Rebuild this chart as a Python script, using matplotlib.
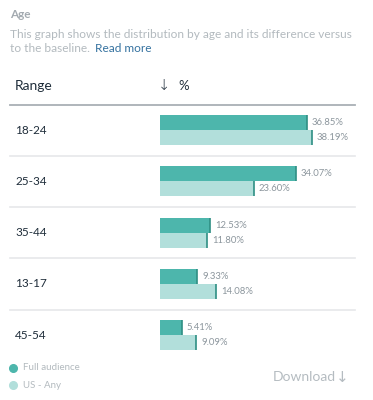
import matplotlib
matplotlib.use("Agg")
import matplotlib.pyplot as plt
from matplotlib.lines import Line2D

plt.rcParams['font.family'] = ['Lato', 'DejaVu Sans']

# ---- data ----
categories = ["18-24", "25-34", "35-44", "13-17", "45-54"]
full_audience = [36.85, 34.07, 12.53, 9.33, 5.41]
us_any = [38.19, 23.60, 11.80, 14.08, 9.09]
series_names = ["Full audience", "US - Any"]

DARK = "#4db6ac"
LIGHT = "#b2dfdb"
CAP = "#2f8f84"
W, H = 373, 400

fig = plt.figure(figsize=(W / 100, H / 100), dpi=100)
fig.patch.set_facecolor("white")

def fx(px):
    return px / W

def fy(py):
    return 1 - py / H

# axes for bars: x 160..360 px, y 104..360 px
ax_l, ax_r, ax_t, ax_b = 160, 360, 104, 360
ax = fig.add_axes([fx(ax_l), fy(ax_b), fx(ax_r - ax_l), (ax_b - ax_t) / H])
ax.set_axis_off()
px_per_pct = 3.98
row_px = 51.3
ax.set_xlim(0, (ax_r - ax_l) / px_per_pct)
top_off = 26 / row_px
ax.set_ylim((ax_b - ax_t) / row_px - top_off, -top_off)

bh = 15 / row_px
ys = list(range(len(categories)))
ax.barh([y - bh / 2 for y in ys], full_audience, height=bh, color=DARK, linewidth=0)
ax.barh([y + bh / 2 for y in ys], us_any, height=bh, color=LIGHT, linewidth=0)
ax.vlines(full_audience, [y - bh for y in ys], ys, color=CAP, linewidth=1.2)
ax.vlines(us_any, ys, [y + bh for y in ys], color=CAP, linewidth=1.2)

lab_off = 5 / px_per_pct
for y, a, b in zip(ys, full_audience, us_any):
    ax.text(a + lab_off, y - bh / 2, f"{a:.2f}%", va="center", ha="left",
            fontsize=6.8, color="#8c969d")
    ax.text(b + lab_off, y + bh / 2, f"{b:.2f}%", va="center", ha="left",
            fontsize=6.8, color="#8c969d")

# separators
xmin = (10 - ax_l) / (ax_r - ax_l)
xmax = (355 - ax_l) / (ax_r - ax_l)
for y in ys[:-1]:
    ax.axhline(y + 0.5, xmin=xmin, xmax=xmax, color="#e6e8ea", linewidth=1.2, clip_on=False)
fig.add_artist(Line2D([fx(10), fx(355)], [fy(105), fy(105)], color="#a9b0b5", linewidth=1.3))

# row labels
for y, c in zip(ys, categories):
    py = 130 + row_px * y
    fig.text(fx(15), fy(py), c, fontsize=8.5, color="#1f2d3a", va="center", ha="left")

# header texts
fig.text(fx(10), fy(15), "Age", fontsize=8.5, fontweight="bold", color="#a3aab0", va="center")
fig.text(fx(10), fy(34), "This graph shows the distribution by age and its difference versus",
         fontsize=8.6, color="#b3babf", va="center")
t = fig.text(fx(10), fy(49), "to the baseline.", fontsize=8.6, color="#b3babf", va="center")
fig.canvas.draw()
bb = t.get_window_extent(fig.canvas.get_renderer())
fig.text(bb.x1 / W + fx(5), fy(49), "Read more", fontsize=8.6, color="#3572a0", va="center")
fig.text(fx(15), fy(86), "Range", fontsize=10, color="#1f2d3a", va="center")
fig.text(fx(158), fy(86), "↓", fontsize=10.5, color="#1f2d3a", va="center",
         family=["DejaVu Sans"], fontweight="light")
fig.text(fx(178), fy(86), "%", fontsize=9.5, color="#1f2d3a", va="center")

# legend
for py, col, name in [(368, DARK, series_names[0]), (385, LIGHT, series_names[1])]:
    fig.add_artist(Line2D([fx(13)], [fy(py)], marker="o", markersize=5.5, color=col,
                          linestyle="none"))
    fig.text(fx(23), fy(py), name, fontsize=7, color="#b3babf", va="center")

fig.text(fx(273), fy(377), "Download", fontsize=10, color="#b5bcc1", va="center")
fig.text(fx(336), fy(377), "↓", fontsize=11, color="#b5bcc1", va="center",
         family=["DejaVu Sans"])

fig.savefig("out.png", dpi=100, facecolor="white")
